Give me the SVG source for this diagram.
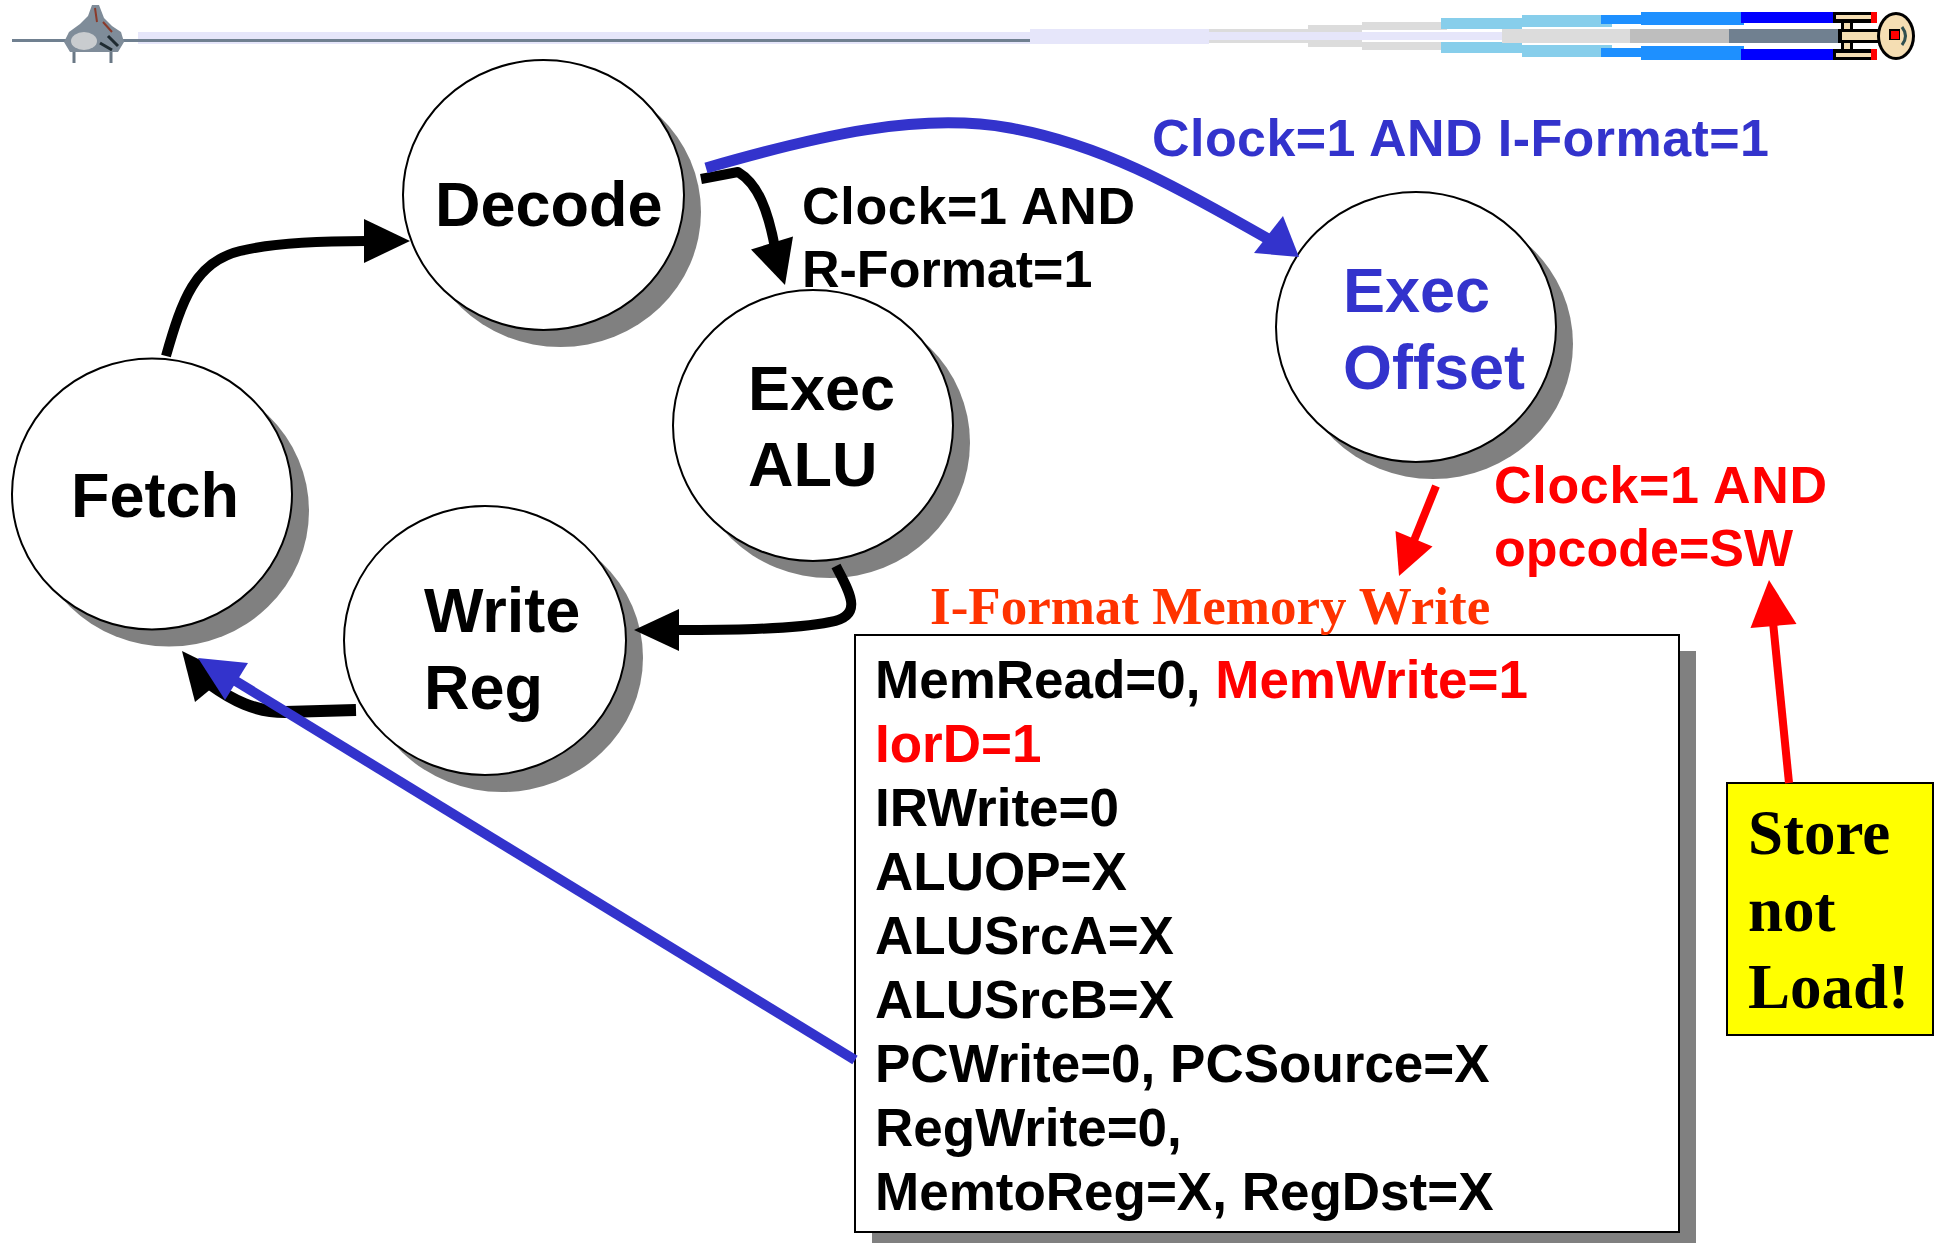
<svg xmlns="http://www.w3.org/2000/svg" width="1939" height="1243" viewBox="0 0 1939 1243">
  <style>
    .shadow { fill: #808080; }
    .node { fill: #ffffff; stroke: #000000; stroke-width: 2; }
    .sans { font-family: "Liberation Sans", Arial, sans-serif; font-weight: bold; }
    .serif { font-family: "Liberation Serif", "Times New Roman", serif; font-weight: bold; }
    .state { font-size: 63px; }
    .cond { font-size: 52px; }
    .sig { font-size: 53px; }
    .blue { fill: #3333CC; }
    .red { fill: #FF0000; }
    .wire { fill: none; stroke-linecap: butt; stroke-linejoin: round; }
  </style>

  <rect width="1939" height="1243" fill="#ffffff"/>

  <!-- header rule with the two ships -->
  <g id="header">
    <rect x="138" y="32" width="892" height="12" fill="#E6E6FA"/>
    <rect x="12" y="39" width="1018" height="3" fill="#708090"/>
    <rect x="1030" y="29" width="179" height="15" fill="#E6E6FA"/>
    <rect x="1209" y="32" width="293" height="8" fill="#E6E6FA"/>
    <!-- exhaust trail, upper -->
    <rect x="1209" y="29" width="99" height="3" fill="#DCDCDC"/>
    <rect x="1308" y="25" width="54" height="7" fill="#DCDCDC"/>
    <rect x="1362" y="22" width="85" height="8" fill="#DCDCDC"/>
    <rect x="1441" y="18" width="81" height="11" fill="#87CEEB"/>
    <rect x="1522" y="15" width="90" height="12" fill="#87CEEB"/>
    <rect x="1601" y="15" width="40" height="9" fill="#1E90FF"/>
    <rect x="1641" y="12" width="103" height="13" fill="#1E90FF"/>
    <rect x="1741" y="12" width="92" height="11" fill="#0000FF"/>
    <!-- exhaust trail, lower -->
    <rect x="1209" y="40" width="99" height="3" fill="#DCDCDC"/>
    <rect x="1308" y="40" width="54" height="7" fill="#DCDCDC"/>
    <rect x="1362" y="42" width="85" height="8" fill="#DCDCDC"/>
    <rect x="1441" y="42" width="81" height="11" fill="#87CEEB"/>
    <rect x="1522" y="45" width="90" height="12" fill="#87CEEB"/>
    <rect x="1601" y="48" width="40" height="9" fill="#1E90FF"/>
    <rect x="1641" y="46" width="103" height="14" fill="#1E90FF"/>
    <rect x="1741" y="49" width="92" height="11" fill="#0000FF"/>
    <!-- exhaust trail, centre -->
    <rect x="1502" y="29" width="128" height="14" fill="#DCDCDC"/>
    <rect x="1630" y="29" width="99" height="14" fill="#BEBEBE"/>
    <rect x="1729" y="29" width="113" height="14" fill="#708090"/>

    <!-- right ship -->
    <g id="ship-right">
      <rect x="1833" y="12" width="44" height="11" fill="#000"/>
      <rect x="1836" y="15" width="35" height="4" fill="#F5DEB3"/>
      <rect x="1833" y="49" width="44" height="11" fill="#000"/>
      <rect x="1836" y="53" width="35" height="4" fill="#F5DEB3"/>
      <rect x="1871" y="12" width="6" height="11" fill="#FF0000"/>
      <rect x="1871" y="49" width="6" height="11" fill="#FF0000"/>
      <rect x="1841" y="21" width="12" height="30" fill="#000"/>
      <rect x="1844" y="23" width="6" height="26" fill="#F5DEB3"/>
      <rect x="1838" y="29" width="40" height="14" fill="#000"/>
      <rect x="1842" y="32" width="36" height="8" fill="#F5DEB3"/>
      <ellipse cx="1896" cy="36" rx="19" ry="24" fill="#000"/>
      <ellipse cx="1896" cy="36" rx="16" ry="21" fill="#F5DEB3"/>
      <rect x="1889" y="29" width="11" height="11" fill="#000"/>
      <rect x="1891" y="31" width="8" height="8" fill="#FF0000"/>
      <path d="M1902,27 Q1909,36 1902,45" fill="none" stroke="#2F4F4F" stroke-width="3"/>
    </g>

    <!-- left ship -->
    <g id="ship-left">
      <path d="M92,5 L99,5 L104,18 L112,26 L121,32 L124,42 L118,52 L70,52 L64,42 L69,32 L80,24 L88,16 Z" fill="#7F8C99"/>
      <ellipse cx="84" cy="41" rx="13" ry="9" fill="#C9CCCF"/>
      <path d="M95,8 L97,22 M103,22 L112,32" stroke="#8B3A2A" stroke-width="2"/>
      <path d="M108,36 L118,46 M100,43 L112,50" stroke="#1E2A30" stroke-width="3"/>
      <path d="M74,52 L74,63 M111,52 L111,63" stroke="#6A7885" stroke-width="3"/>
    </g>
  </g>

  <!-- states -->
  <g id="fetch">
    <ellipse class="shadow" cx="169" cy="511" rx="140" ry="135.5"/>
    <ellipse class="node" cx="152" cy="494" rx="140" ry="135.5"/>
    <text class="sans state" x="71" y="517">Fetch</text>
  </g>

  <g id="decode">
    <ellipse class="shadow" cx="560.5" cy="212" rx="140.5" ry="135"/>
    <ellipse class="node" cx="543.5" cy="195" rx="140.5" ry="135"/>
    <text class="sans state" x="435" y="226">Decode</text>
  </g>

  <g id="exec-alu">
    <ellipse class="shadow" cx="830" cy="442.5" rx="140" ry="135.5"/>
    <ellipse class="node" cx="813" cy="425.5" rx="140" ry="135.5"/>
    <text class="sans state" x="748" y="410">Exec</text>
    <text class="sans state" x="748" y="486">ALU</text>
  </g>

  <g id="exec-offset">
    <ellipse class="shadow" cx="1433" cy="344" rx="140" ry="135"/>
    <ellipse class="node" cx="1416" cy="327" rx="140" ry="135"/>
    <text class="sans state blue" x="1343" y="312">Exec</text>
    <text class="sans state blue" x="1343" y="389">Offset</text>
  </g>

  <g id="write-reg">
    <ellipse class="shadow" cx="502" cy="657.5" rx="141" ry="134.5"/>
    <ellipse class="node" cx="485" cy="640.5" rx="141" ry="134.5"/>
    <text class="sans state" x="424" y="632">Write</text>
    <text class="sans state" x="424" y="709">Reg</text>
  </g>

  <!-- control signals asserted in this state -->
  <g id="signals">
    <rect class="shadow" x="872" y="651" width="824" height="597"/>
    <rect x="855" y="635" width="824" height="597" fill="#ffffff" stroke="#000" stroke-width="2"/>
    <text class="serif" x="930" y="624" font-size="53" fill="#FF3300">I-Format Memory Write</text>
    <g class="sans sig">
      <text x="875" y="698">MemRead=0, <tspan class="red">MemWrite=1</tspan></text>
      <text class="red" x="875" y="762">IorD=1</text>
      <text x="875" y="826">IRWrite=0</text>
      <text x="875" y="890">ALUOP=X</text>
      <text x="875" y="954">ALUSrcA=X</text>
      <text x="875" y="1018">ALUSrcB=X</text>
      <text x="875" y="1082">PCWrite=0, PCSource=X</text>
      <text x="875" y="1146">RegWrite=0,</text>
      <text x="875" y="1210">MemtoReg=X, RegDst=X</text>
    </g>
  </g>

  <g id="note">
    <rect x="1727" y="783" width="206" height="252" fill="#FFFF00" stroke="#000" stroke-width="2"/>
    <text class="serif" x="1748" y="854" font-size="63">Store</text>
    <text class="serif" x="1748" y="931" font-size="63">not</text>
    <text class="serif" x="1748" y="1008" font-size="63">Load!</text>
  </g>

  <!-- transition conditions -->
  <g id="labels" class="sans cond">
    <text class="blue" x="1152" y="156" textLength="617" lengthAdjust="spacing">Clock=1 AND I-Format=1</text>
    <text x="802" y="224" textLength="333" lengthAdjust="spacing">Clock=1 AND</text>
    <text x="802" y="287">R-Format=1</text>
    <text class="red" x="1494" y="503" textLength="333" lengthAdjust="spacing">Clock=1 AND</text>
    <text class="red" x="1494" y="566">opcode=SW</text>
  </g>

  <!-- transitions -->
  <g id="connectors">
    <!-- Fetch to Decode -->
    <path class="wire" stroke="#000" stroke-width="10" d="M166,356 C182,300 195,262 240,251 C272,243 320,241 366,241"/>
    <polygon points="364,219 410,241 364,263" fill="#000"/>

    <!-- Decode to Exec ALU -->
    <path class="wire" stroke="#000" stroke-width="10" d="M701,179 L738,172 C758,184 768,210 775,248"/>
    <polygon points="751,249.5 793,236.5 785,285" fill="#000"/>

    <!-- Decode to Exec Offset -->
    <path class="wire" stroke="#3333CC" stroke-width="11" d="M706,168 C820,135 920,112 1010,128 C1110,146 1190,195 1270,240"/>
    <polygon points="1254,253 1283,216 1299,257" fill="#3333CC"/>

    <!-- Exec ALU to Write Reg -->
    <path class="wire" stroke="#000" stroke-width="10" d="M836,566 C848,590 866,616 830,622 C790,630 720,630 676,630"/>
    <polygon points="679,609 634,630 679,651" fill="#000"/>

    <!-- Write Reg to Fetch -->
    <path class="wire" stroke="#000" stroke-width="12" d="M356,710 L285,712 C255,712 232,700 210,684"/>
    <polygon points="195,702 229,674 182,651" fill="#000"/>

    <!-- Memory write back to Fetch -->
    <path class="wire" stroke="#3333CC" stroke-width="10" d="M855,1060 L234,680"/>
    <polygon points="248,663 225,700 198,658" fill="#3333CC"/>

    <!-- Exec Offset to memory write -->
    <path class="wire" stroke="#FF0000" stroke-width="8" d="M1436,486 L1413,543"/>
    <polygon points="1395.5,531 1432.5,546.5 1399,576" fill="#FF0000"/>

    <!-- note pointer -->
    <path class="wire" stroke="#FF0000" stroke-width="8" d="M1789,783 L1773,622"/>
    <polygon points="1750.5,628 1796.5,624 1769,580" fill="#FF0000"/>
  </g>
</svg>
